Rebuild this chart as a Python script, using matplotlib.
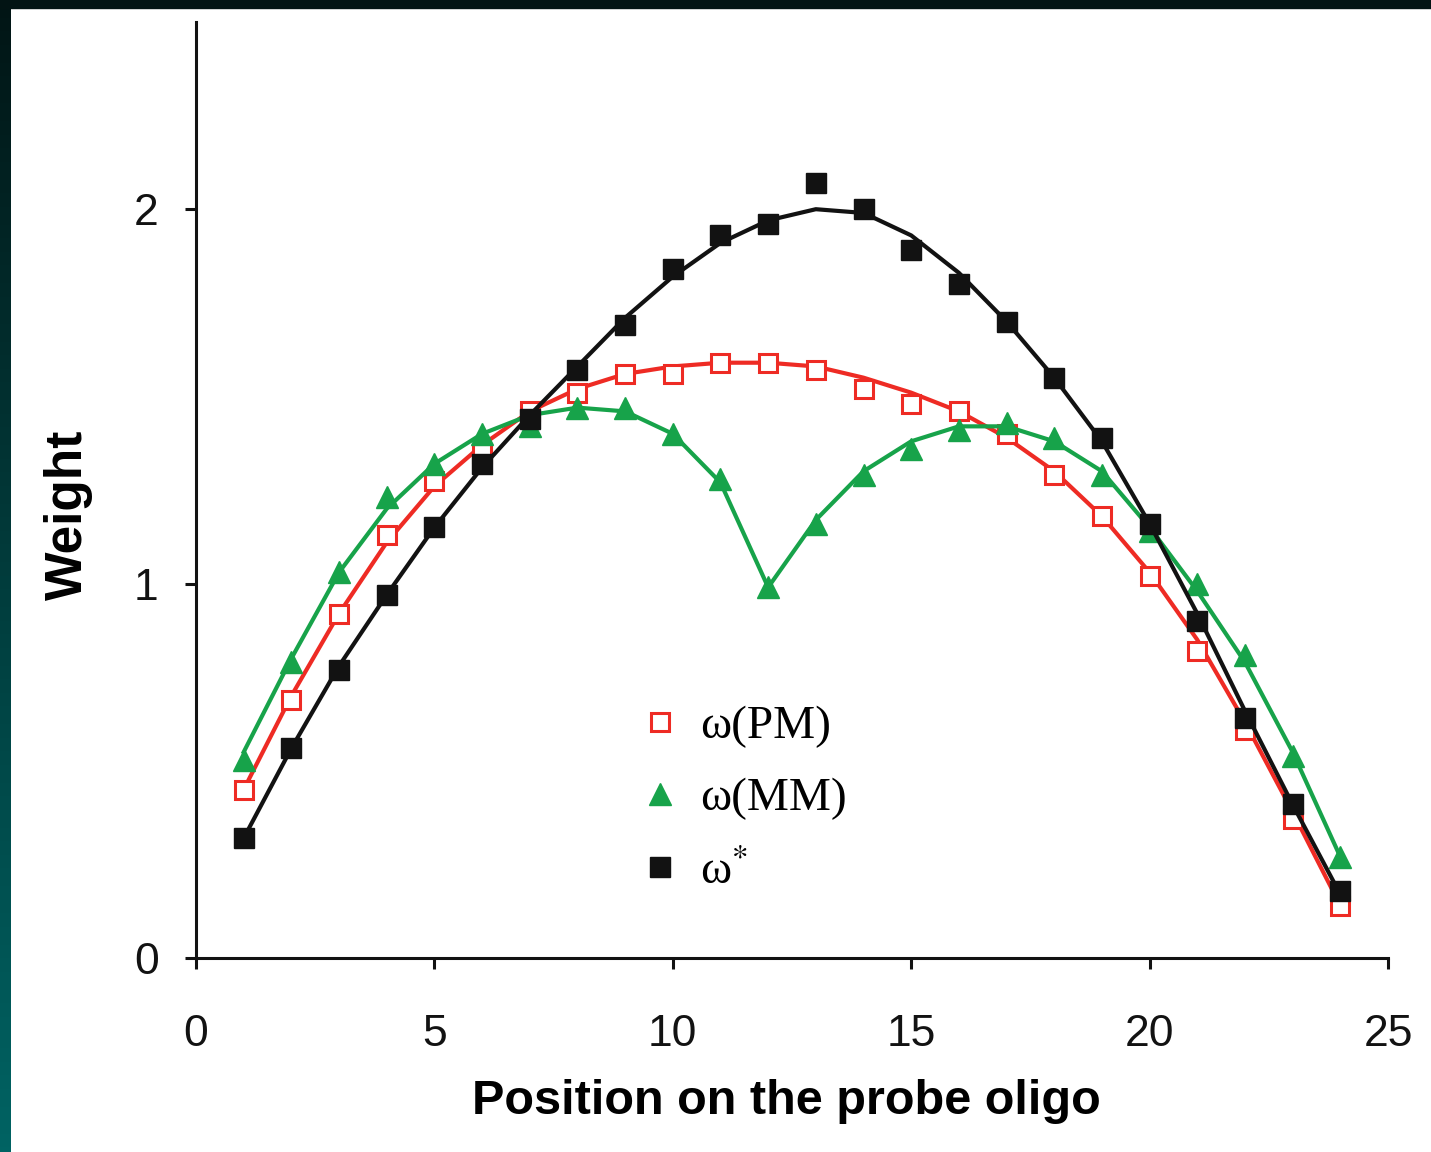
import matplotlib
matplotlib.use('Agg')
import matplotlib.pyplot as plt
import numpy as np
from matplotlib.colors import LinearSegmentedColormap
from matplotlib.patches import Rectangle

# positions along the probe and weights
positions = list(range(1, 25))

w_pm = [0.45, 0.69, 0.92, 1.13, 1.275, 1.35, 1.46, 1.51, 1.56, 1.56, 1.59, 1.59,
        1.57, 1.52, 1.48, 1.46, 1.40, 1.29, 1.18, 1.02, 0.82, 0.61, 0.37, 0.14]
w_pm_fit = [0.45, 0.70, 0.92, 1.11, 1.26, 1.37, 1.46, 1.52, 1.56, 1.58, 1.59, 1.59,
            1.58, 1.55, 1.51, 1.46, 1.39, 1.30, 1.18, 1.03, 0.85, 0.63, 0.39, 0.14]

w_mm = [0.53, 0.79, 1.03, 1.23, 1.32, 1.40, 1.42, 1.47, 1.47, 1.40, 1.28, 0.99,
        1.16, 1.29, 1.36, 1.41, 1.43, 1.39, 1.29, 1.14, 1.00, 0.81, 0.54, 0.27]
w_mm_fit = [0.55, 0.80, 1.03, 1.20, 1.32, 1.40, 1.45, 1.47, 1.46, 1.40, 1.27, 0.99,
            1.17, 1.30, 1.38, 1.42, 1.42, 1.38, 1.30, 1.15, 0.98, 0.79, 0.55, 0.27]

w_star = [0.32, 0.56, 0.77, 0.97, 1.15, 1.32, 1.44, 1.57, 1.69, 1.84, 1.93, 1.96,
          2.07, 2.00, 1.89, 1.80, 1.70, 1.55, 1.39, 1.16, 0.90, 0.64, 0.41, 0.18]
w_star_fit = [0.32, 0.56, 0.78, 0.97, 1.15, 1.31, 1.45, 1.58, 1.71, 1.82, 1.91, 1.97,
              2.00, 1.99, 1.93, 1.83, 1.70, 1.55, 1.38, 1.16, 0.92, 0.66, 0.41, 0.17]

red = '#ee2b24'
green = '#17a34a'
black = '#121212'

plt.rcParams['mathtext.fontset'] = 'stix'
plt.rcParams['font.family'] = ['Liberation Sans', 'DejaVu Sans']

fig = plt.figure(figsize=(14.31, 11.52), dpi=100)
fig.patch.set_facecolor('white')

# dark slide frame (top strip + teal gradient on the left)
bg = fig.add_axes([0, 0, 1, 1], zorder=-5)
grad = np.linspace(0, 1, 256).reshape(-1, 1)
cmap = LinearSegmentedColormap.from_list('frame', ['#021515', '#006363'])
bg.imshow(grad, extent=(0, 11, 1152, 0), cmap=cmap, aspect='auto')
bg.add_patch(Rectangle((0, 0), 1431, 8, color='#021414'))
bg.set_xlim(0, 1431)
bg.set_ylim(1152, 0)
bg.axis('off')

ax = fig.add_axes([196 / 1431, (1152 - 958) / 1152, 1192 / 1431, 936 / 1152])
ax.set_facecolor('none')

ax.plot(positions, w_pm_fit, color=red, lw=3)
ax.plot(positions, w_pm, 's', ms=13, mfc='white', mec=red, mew=2.2, label='ω(PM)')
ax.plot(positions, w_mm_fit, color=green, lw=3)
ax.plot(positions, w_mm, '^', ms=16, color=green, label='ω(MM)')
ax.plot(positions, w_star_fit, color=black, lw=3)
ax.plot(positions, w_star, 's', ms=14, color=black, label='ω$^{*}$')

ax.set_xlim(0, 25)
ax.set_ylim(0, 2.5)
ax.set_xticks([0, 5, 10, 15, 20, 25])
ax.set_yticks([0, 1, 2])
for s in ['top', 'right']:
    ax.spines[s].set_visible(False)
for s in ['left', 'bottom']:
    ax.spines[s].set_linewidth(2.2)
    ax.spines[s].set_color(black)
ax.tick_params(axis='both', direction='out', length=8, width=2.2, colors=black, labelsize=32)
ax.tick_params(axis='x', pad=32)
ax.tick_params(axis='y', pad=19)

lab_font = ['Liberation Sans Narrow', 'Liberation Sans', 'DejaVu Sans']
ax.set_xlabel('Position on the probe oligo', fontsize=35, fontweight='bold',
              family=lab_font, va='center')
ax.xaxis.set_label_coords(0.495, -0.153)
ax.set_ylabel('Weight', fontsize=37, fontweight='bold', family=lab_font, va='center')
ax.yaxis.set_label_coords(-0.107, 0.473)

ax.legend(loc='upper left', bbox_to_anchor=(636 / 1431, 1 - 705 / 1152),
          bbox_transform=fig.transFigure, frameon=False,
          prop={'family': ['Liberation Serif', 'DejaVu Serif'], 'size': 34},
          handlelength=1.0, handletextpad=0.35, labelspacing=0.62,
          borderpad=0, borderaxespad=0, markerscale=1.0)

fig.savefig('out.png', dpi=100)
